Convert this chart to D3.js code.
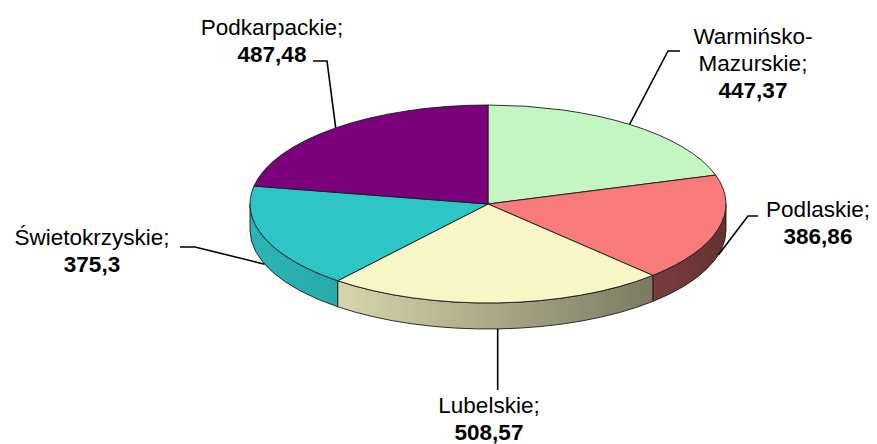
<!DOCTYPE html>
<html>
<head>
<meta charset="utf-8">
<script src="https://cdn.jsdelivr.net/npm/d3@7"></script>
<style>
  html, body { margin: 0; padding: 0; background: #ffffff; }
  svg text { font-family: "Liberation Sans", Arial, sans-serif; fill: #000; }
</style>
</head>
<body>
<svg id="chart" width="877" height="444"></svg>
<script>
// Regions and their values
const categories = ["Warmińsko-Mazurskie", "Podlaskie", "Lubelskie", "Świetokrzyskie", "Podkarpackie"];
const values = [447.37, 386.86, 508.57, 375.3, 487.48];
const sliceColors = ["#c4f6c4", "#f77b7b", "#f6f6c6", "#2dc5c5", "#7b007b"];

// Label placement: text centre, first baseline, leader elbow and horizontal end
const labelLayout = [
  { tx: 753, ty: 44,  ex: 668, ey: 51,  hx: 680 },
  { tx: 818, ty: 217, ex: 748, ey: 216, hx: 758 },
  { tx: 489, ty: 413, ex: null, ey: 390, hx: null },
  { tx: 92,  ty: 245, ex: 195, ey: 247, hx: 180 },
  { tx: 272, ty: 35,  ex: 327, ey: 61,  hx: 313 }
];

const svg = d3.select("#chart");
const cx = 488, cy = 204, rx = 238, ry = 99, depth = 26;
const fontSize = 22.5, lineH = 27;

const pie = d3.pie().sort(null).value(d => d);
const arcs = pie(values);

// projection of a pie angle (clockwise from 12 o'clock) onto the tilted ellipse
const pt = (a, dy = 0) => [cx + rx * Math.sin(a), cy - ry * Math.cos(a) + dy];

// side shading gradients (lighter on the left, darker on the right)
const defs = svg.append("defs");
sliceColors.forEach((c, i) => {
  const base = d3.rgb(c);
  const shade = f => d3.rgb(base.r * f, base.g * f, base.b * f).formatHex();
  const g = defs.append("linearGradient")
    .attr("id", "side" + i)
    .attr("gradientUnits", "userSpaceOnUse")
    .attr("x1", cx - rx).attr("x2", cx + rx).attr("y1", 0).attr("y2", 0);
  g.append("stop").attr("offset", 0).attr("stop-color", shade(0.92));
  g.append("stop").attr("offset", 0.2).attr("stop-color", shade(0.86));
  g.append("stop").attr("offset", 1).attr("stop-color", shade(0.41));
});

// visible outer walls (front half of the pie)
const sideG = svg.append("g");
arcs.forEach((d, i) => {
  const s = Math.max(d.startAngle, Math.PI / 2);
  const e = Math.min(d.endAngle, 3 * Math.PI / 2);
  if (e <= s) return;
  const [x0, y0] = pt(s), [x1, y1] = pt(e);
  const large = (e - s) > Math.PI ? 1 : 0;
  const p = `M${x0},${y0} A${rx},${ry} 0 ${large} 1 ${x1},${y1}` +
            ` L${x1},${y1 + depth} A${rx},${ry} 0 ${large} 0 ${x0},${y0 + depth} Z`;
  sideG.append("path")
    .attr("d", p)
    .attr("fill", `url(#side${i})`)
    .attr("stroke", "#1a1a1a")
    .attr("stroke-width", 0.9)
    .attr("stroke-linejoin", "round");
});

// top faces
const topG = svg.append("g");
arcs.forEach((d, i) => {
  const [x0, y0] = pt(d.startAngle), [x1, y1] = pt(d.endAngle);
  const large = (d.endAngle - d.startAngle) > Math.PI ? 1 : 0;
  const p = `M${cx},${cy} L${x0},${y0} A${rx},${ry} 0 ${large} 1 ${x1},${y1} Z`;
  topG.append("path")
    .attr("d", p)
    .attr("fill", sliceColors[i])
    .attr("stroke", "#1a1a1a")
    .attr("stroke-width", 0.9)
    .attr("stroke-linejoin", "round");
});

// labels with leader lines
const labG = svg.append("g");
arcs.forEach((d, i) => {
  const mid = (d.startAngle + d.endAngle) / 2;
  const front = Math.cos(mid) < 0;
  const [ax, ay] = pt(mid, front ? depth : 0);
  const L = labelLayout[i];
  const pts = [[ax, ay]];
  if (L.ex === null) {
    pts.push([ax, L.ey]);
  } else {
    pts.push([L.ex, L.ey], [L.hx, L.ey]);
  }
  labG.append("path")
    .attr("d", d3.line()(pts))
    .attr("fill", "none")
    .attr("stroke", "#000")
    .attr("stroke-width", 1.6);

  const name = categories[i] + ";";
  const lines = name.includes("-") ? [name.slice(0, name.indexOf("-") + 1), name.slice(name.indexOf("-") + 1)] : [name];
  const t = labG.append("text")
    .attr("text-anchor", "middle")
    .attr("font-size", fontSize);
  lines.forEach((ln, k) => {
    t.append("tspan").attr("x", L.tx).attr("y", L.ty + k * lineH).text(ln);
  });
  t.append("tspan")
    .attr("x", L.tx)
    .attr("y", L.ty + lines.length * lineH)
    .attr("font-weight", "bold")
    .text(String(d.data).replace(".", ","));
});
</script>
</body>
</html>
